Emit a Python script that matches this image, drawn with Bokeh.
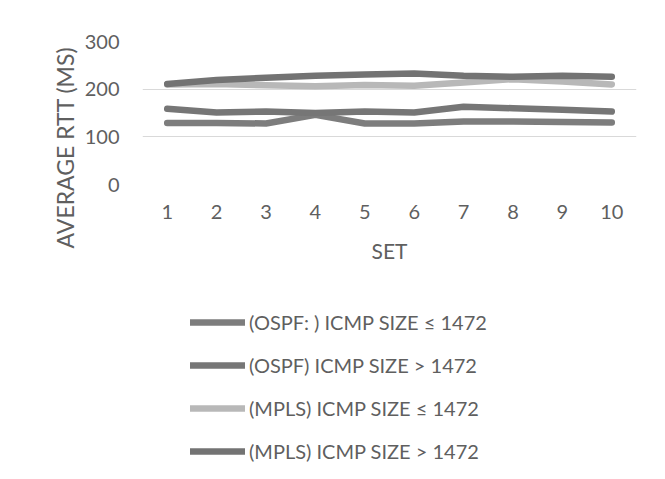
import math
from bokeh.plotting import figure
from bokeh.models import Legend, LegendItem, Title, FixedTicker
from bokeh.layouts import column
from bokeh.embed import file_html
from bokeh.resources import INLINE

sets = [1, 2, 3, 4, 5, 6, 7, 8, 9, 10]
ospf_small = [129, 129, 128, 146, 128, 128, 132, 132, 131, 130]
ospf_large = [159, 151, 153, 150, 153, 151, 163, 160, 157, 153]
mpls_small = [210, 211, 208, 206, 209, 207, 214, 221, 216, 210]
mpls_large = [211, 219, 224, 228, 231, 233, 228, 226, 228, 226]
series_names = ["(OSPF: ) ICMP SIZE \u2264 1472", "(OSPF) ICMP SIZE > 1472",
                "(MPLS) ICMP SIZE \u2264 1472", "(MPLS) ICMP SIZE > 1472"]
series_colors = ["#7d7d7d", "#767676", "#b8b8b8", "#737373"]
y_ticks = [0, 100, 200, 300]

FONT = "Lato"
TXT = "#5f5f5f"
all_series = [ospf_small, ospf_large, mpls_small, mpls_large]

# ---- chart ----
p = figure(width=665, height=275, output_backend="svg", toolbar_location=None,
           x_range=(0.5, 10.5), y_range=(0, 300),
           min_border_left=142, min_border_right=29, min_border_top=41, min_border_bottom=91)
p.outline_line_color = None
p.background_fill_color = "white"
p.border_fill_color = "white"

p.xgrid.grid_line_color = None
p.ygrid.grid_line_color = "#d9d9d9"
p.ygrid.grid_line_width = 1

p.xaxis.ticker = FixedTicker(ticks=sets)
p.yaxis.ticker = FixedTicker(ticks=y_ticks)
for ax in (p.xaxis[0], p.yaxis[0]):
    ax.axis_line_color = None
    ax.major_tick_line_color = None
    ax.minor_tick_line_color = None
    ax.major_label_text_font = FONT
    ax.major_label_text_font_size = "20px"
    ax.major_label_text_color = TXT
p.xaxis.major_label_standoff = 14
p.yaxis.major_label_standoff = 17
p.xaxis.axis_label = "SET"
p.xaxis.axis_label_text_font = FONT
p.xaxis.axis_label_text_font_size = "21px"
p.xaxis.axis_label_text_font_style = "normal"
p.xaxis.axis_label_text_color = TXT
p.xaxis.axis_label_standoff = 16

ytitle = Title(text="AVERAGE RTT (MS)", align="left", offset=-64, standoff=6,
               text_font=FONT, text_font_size="23px", text_font_style="normal",
               text_color=TXT)
p.add_layout(ytitle, "left")

for vals, col in zip(all_series, series_colors):
    p.line(sets, vals, line_color=col, line_width=6.5, line_join="round", line_cap="round")

# ---- legend panel (same series; value range kept out of view so only the legend shows) ----
q = figure(width=665, height=204, output_backend="svg", toolbar_location=None,
           x_range=(0.5, 10.5), y_range=(1000, 1100),
           min_border=0, min_border_left=0, min_border_right=0, min_border_top=0, min_border_bottom=0)
q.axis.visible = False
q.grid.visible = False
q.outline_line_color = None
q.background_fill_color = "white"
q.border_fill_color = "white"

items = []
for vals, name, col in zip(all_series, series_names, series_colors):
    r = q.line(sets, vals, line_color=col, line_width=6.5, line_join="round", line_cap="round")
    items.append(LegendItem(label=name, renderers=[r]))

legend = Legend(items=items, location=(48, 16), orientation="vertical",
                glyph_width=55, glyph_height=20, label_height=20, spacing=19,
                label_standoff=4, padding=0, margin=0,
                label_text_font=FONT, label_text_font_size="20px", label_text_color=TXT,
                border_line_color=None, background_fill_alpha=0)
q.add_layout(legend, "center")

layout = column(p, q, spacing=0)
out = file_html(layout, INLINE)
open("out.html", "w").write(out)
